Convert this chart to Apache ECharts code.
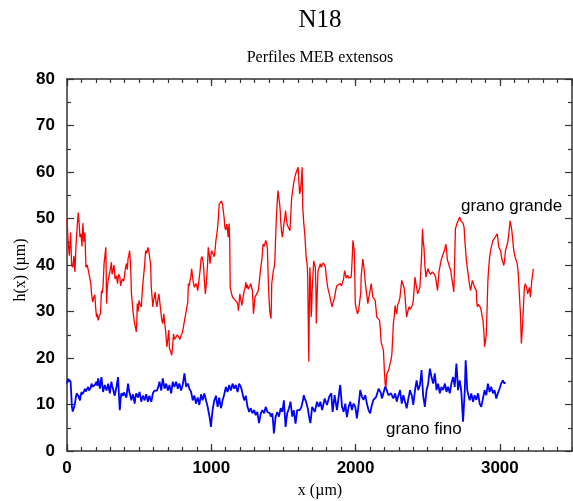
<!DOCTYPE html>
<html>
<head>
<meta charset="utf-8">
<script src="https://cdn.jsdelivr.net/npm/echarts@6/dist/echarts.min.js"></script>
<style>html,body{margin:0;padding:0;background:#fff}#c{width:573px;height:501px}</style>
</head>
<body>
<div id="c"></div>
<script>
var chartTitle = 'N18';
var chartSubtitle = 'Perfiles MEB extensos';
var xName = 'x (\u00b5m)';
var yName = 'h(x) (\u00b5m)';
var xTicks = [0, 1000, 2000, 3000];
var yTicks = [0, 10, 20, 30, 40, 50, 60, 70, 80];
var seriesNames = ['grano grande', 'grano fino'];

// grano grande profile: [x (µm), h (µm)]
var granoGrande = [
[0,50],[8,45],[16,42],[25,47],[32,40],[40,39.5],[48,42],[55,38.5],[62,44],[70,48],[78,51.3],[84,49],[90,46],[97,46.7],[104,44],[110,49],[117,45],[124,47],[128,43],[131,39.5],[140,40],[150,38.5],[159,38.2],[165,36],[170,33.9],[178,32],[185,33],[193,33.6],[198,31],[205,28.8],[210,29.5],[216,28.1],[224,29],[232,29.5],[239,34.5],[245,34],[250,35.6],[257,40.3],[263,42],[269,43.8],[272,38],[274,31.7],[279,35],[285,36.7],[292,37],[300,39],[308,40.6],[312,38],[319,38.8],[326,40],[333,37],[343,37.7],[350,36],[358,38],[366,37.4],[372,35.5],[377,36.3],[385,37],[393,36.5],[400,38.1],[406,39.5],[412,40.3],[418,39],[423,41.3],[428,42],[434,43.1],[439,41],[443,38],[446,34.2],[452,32],[457,30.2],[463,28.5],[469,27.4],[475,26.5],[480,25.6],[484,28],[487,31.7],[493,30],[499,32.4],[507,31.5],[515,31],[520,33.5],[526,36],[532,38],[538,39.9],[545,43.1],[553,42.5],[561,43.8],[568,42.8],[577,43.1],[580,40],[584,35.2],[590,33],[595,31],[600,32.5],[605,33],[611,34.2],[617,32],[623,31],[630,32.5],[637,33.8],[645,31.5],[653,29.2],[658,28],[664,27.4],[671,29.5],[677,27.5],[683,26],[688,24],[692,22.4],[699,24],[706,26],[710,22],[718,21.5],[726,20.6],[732,22.5],[738,25.2],[745,24],[756,23.8],[765,25],[775,24.9],[783,24],[791,24.9],[800,25.5],[807,26.7],[814,28],[821,29.2],[832,29.5],[837,32],[841,36],[847,35.5],[853,36.7],[858,37.5],[864,39.2],[871,37.2],[877,36],[883,35.2],[889,35],[894,36],[900,35.5],[906,34.5],[912,36],[917,37.4],[923,39],[929,41.3],[936,41.8],[945,40.3],[949,38.5],[952,36.7],[956,35],[959,33.8],[964,35.5],[968,37.2],[974,40],[979,43.8],[985,42.5],[991,40.3],[997,42],[1002,43.1],[1010,42.5],[1021,41.8],[1027,43.5],[1032,45.3],[1038,46.5],[1044,48.1],[1050,50.5],[1055,53.1],[1063,53],[1071,53.8],[1078,53],[1085,52.8],[1090,49.9],[1094,48.1],[1100,47.5],[1108,48.8],[1113,47.5],[1117,46],[1120,47.5],[1124,48.9],[1128,45],[1131,35.2],[1136,35.2],[1141,33.8],[1147,33.1],[1155,33.5],[1163,32.5],[1170,32.7],[1178,32],[1184,31.5],[1188,30.2],[1193,32],[1198,33.8],[1205,32.5],[1212,31.3],[1220,33],[1228,34.5],[1234,35],[1239,36.3],[1245,35],[1250,35.8],[1256,34.8],[1262,35.2],[1268,35.5],[1274,36],[1280,35],[1285,34.5],[1289,32],[1292,29.5],[1297,31],[1303,33.1],[1310,33.5],[1318,34],[1326,34.5],[1331,36],[1336,37.4],[1341,39],[1347,40.3],[1353,42],[1359,44.5],[1367,44],[1377,45.3],[1383,44.8],[1389,43.5],[1392,40],[1395,36.7],[1400,33],[1405,30.2],[1410,29],[1414,28.5],[1417,32],[1419,36],[1425,37.5],[1430,38.8],[1436,39.5],[1441,41],[1445,45],[1450,49.5],[1456,53],[1462,56],[1468,54.5],[1474,53.1],[1478,51.5],[1481,49.5],[1486,47.5],[1492,46],[1497,47],[1503,48.8],[1509,50],[1515,51.7],[1520,50],[1526,48.7],[1535,48],[1545,47.4],[1550,50],[1557,54.5],[1564,56],[1572,57.8],[1580,59],[1588,59.9],[1595,60.5],[1602,61],[1607,58],[1612,55.3],[1618,56],[1623,57.8],[1627,59.5],[1630,61],[1634,52.4],[1641,49],[1648,46.7],[1653,44],[1657,41.7],[1664,40.3],[1668,38],[1672,28],[1676,19.2],[1679,30],[1683,39.5],[1688,36],[1692,28.8],[1696,31],[1699,34.5],[1705,38],[1710,40.9],[1716,40],[1721,39.5],[1725,35],[1728,27.4],[1733,33],[1740,38.8],[1748,39.5],[1756,40.3],[1762,39.5],[1768,40],[1776,40.5],[1786,40.9],[1791,39.5],[1795,38.1],[1801,36.5],[1807,35.2],[1812,34.5],[1818,33.8],[1826,32.5],[1837,31],[1845,32],[1855,33.1],[1862,34.5],[1871,35.6],[1880,35.5],[1894,36],[1902,35.5],[1910,35.2],[1917,37],[1924,38.8],[1930,38],[1936,37.2],[1944,37.8],[1952,37.2],[1960,37.5],[1970,37.4],[1976,41],[1982,45.3],[1987,44],[1991,43.1],[1995,37],[1998,31.7],[2005,30.5],[2014,29.5],[2022,30.5],[2032,30.2],[2036,34],[2039,37.7],[2045,39.5],[2050,41.3],[2056,40],[2062,38.2],[2068,36],[2074,34.5],[2080,33],[2085,31.7],[2091,33],[2097,33.8],[2103,35],[2108,36],[2114,34.5],[2120,33.1],[2128,33],[2136,32.4],[2142,30.5],[2147,28.8],[2155,28.5],[2166,28.1],[2172,26],[2177,23.4],[2185,22.5],[2193,21.7],[2200,17],[2205,14.5],[2210,13.5],[2216,16.5],[2223,17],[2230,17.5],[2239,18.8],[2245,19.5],[2251,20.6],[2256,23.5],[2262,27.4],[2268,29],[2274,31.3],[2280,30],[2285,29.5],[2292,31.5],[2300,32],[2308,33.1],[2314,35],[2320,36.7],[2331,36.5],[2337,35],[2343,33.1],[2348,31],[2354,28.8],[2362,30],[2370,31],[2380,30.5],[2389,30.2],[2395,31.5],[2400,32.4],[2406,35],[2412,37.4],[2418,36],[2423,35.2],[2430,33.8],[2438,34.5],[2446,35.2],[2451,38],[2457,41.7],[2461,45],[2464,47.8],[2469,45],[2474,43.8],[2480,40],[2488,37.4],[2495,38.5],[2503,39.2],[2509,38.5],[2515,38.8],[2520,38],[2526,37.7],[2532,38.5],[2538,38.8],[2546,38],[2554,37.4],[2561,36],[2568,34.5],[2574,37],[2579,38.8],[2587,40],[2595,41.3],[2603,42],[2612,42.8],[2619,43.5],[2626,44.5],[2631,43],[2637,41],[2643,40.5],[2648,39.9],[2654,39.5],[2660,38.8],[2665,37.5],[2669,36.7],[2675,35.5],[2681,34.2],[2686,40],[2692,47.8],[2699,48.5],[2706,49.2],[2714,49.5],[2722,50.3],[2730,49.5],[2738,49.9],[2745,49],[2752,48.1],[2758,45],[2763,43.1],[2768,41],[2774,39.5],[2780,38],[2786,36.7],[2791,35.5],[2797,34.5],[2803,35.5],[2809,36.7],[2817,36],[2825,35.2],[2831,35],[2837,34.5],[2840,32],[2844,31],[2850,31.5],[2855,31.7],[2863,31],[2871,30.2],[2877,29],[2883,28.1],[2887,26.5],[2890,25.2],[2894,22.4],[2900,23.5],[2906,25.2],[2911,30],[2917,36.7],[2923,39.5],[2929,41.7],[2935,43],[2940,43.8],[2946,44.5],[2952,45.3],[2960,45.5],[2968,46],[2975,46.3],[2982,46.7],[2988,45],[2993,43.8],[3000,43.5],[3005,43.1],[3010,42],[3016,41],[3022,40.5],[3028,39.9],[3034,41.5],[3039,43.1],[3047,44],[3055,44.9],[3063,47],[3071,49.5],[3077,48.5],[3083,47.4],[3089,45.5],[3094,43.8],[3100,42.5],[3106,41.7],[3113,41],[3120,40.3],[3125,39],[3129,37.4],[3133,35],[3136,33.1],[3140,31],[3143,29.5],[3146,26],[3149,23.1],[3154,25.5],[3159,28.1],[3165,32],[3170,35.2],[3176,36],[3181,36.3],[3187,35],[3193,33.8],[3199,34.5],[3205,35.2],[3209,34],[3212,33.1],[3217,35],[3221,36.7],[3227,38],[3232,39.2]
];

// grano fino profile: [x (µm), h (µm)]
var granoFino = [
[0,14.5],[8,15.5],[16,15.2],[25,14.9],[30,12],[34,9.5],[40,8.5],[44,8.1],[50,9.5],[55,10.2],[61,11.5],[67,12.4],[72,12],[78,11.9],[84,11.5],[90,10.9],[95,12],[101,12.7],[106,12.2],[112,11.9],[118,12.8],[124,13.4],[130,12.8],[136,12.4],[141,13.2],[147,13.8],[153,13],[159,12.7],[164,13.6],[170,14.5],[176,13.8],[181,13.4],[187,13.9],[193,14.2],[199,14.6],[205,14.9],[210,14],[216,15.6],[222,14.5],[228,13.4],[233,14.8],[239,15.9],[245,14],[250,12.7],[256,13.6],[262,14.2],[268,13.5],[274,13],[280,13.8],[285,14.5],[291,13.3],[297,12.4],[302,13.8],[308,14.9],[313,14],[319,13.4],[325,12.5],[331,11.9],[337,12.9],[343,13.8],[348,14.8],[354,15.9],[360,12],[366,8.8],[371,11],[377,12.4],[383,12.2],[388,11.9],[394,12.6],[400,13],[406,12.2],[412,11.5],[417,13],[423,14.5],[428,13.4],[434,12.4],[440,11.8],[446,10.9],[451,11.6],[457,12.2],[463,11.2],[469,10.2],[474,11.5],[480,12.4],[486,12],[492,11.5],[497,12.1],[503,12.7],[509,11.6],[515,10.6],[520,11.3],[526,11.9],[532,11.4],[538,10.9],[543,11.6],[549,12.2],[555,11.4],[561,10.6],[566,11.3],[572,11.9],[578,11.2],[584,10.6],[590,11.5],[595,12.4],[601,12.7],[607,13],[613,12.9],[619,12.7],[624,13],[630,13.4],[636,14.2],[641,14.9],[647,14],[653,13],[658,14.3],[664,15.6],[670,14.5],[676,13.4],[682,14],[688,14.5],[693,13.8],[699,13],[705,13.6],[710,14.2],[716,13.3],[722,12.4],[727,13.6],[733,14.9],[739,14.3],[745,13.8],[750,14.3],[756,14.9],[762,14.2],[768,13.4],[773,14],[779,14.5],[785,13.8],[791,13],[796,13.6],[802,14.2],[808,15.4],[814,16.7],[820,15.2],[826,13.8],[831,14.2],[837,14.5],[843,14],[848,13.4],[854,13],[860,12.7],[866,11.8],[871,10.9],[877,11.4],[883,11.9],[889,11],[894,10.2],[900,10.9],[906,11.5],[912,10.7],[917,9.9],[923,11],[929,12.2],[935,11.5],[940,10.9],[946,11.6],[952,12.4],[958,11.6],[963,10.9],[969,10.2],[975,9.5],[980,8.6],[986,7.7],[992,6.5],[998,5.2],[1003,7],[1009,8.8],[1015,9.9],[1021,10.9],[1027,11.4],[1032,11.9],[1038,10.7],[1044,9.5],[1050,10.5],[1055,11.5],[1061,10.3],[1067,9.2],[1073,10],[1078,10.9],[1084,11.5],[1090,12.2],[1096,13],[1101,13.8],[1107,13.2],[1113,12.7],[1119,13.5],[1124,14.2],[1130,13.6],[1136,13],[1142,13.8],[1147,14.5],[1153,14],[1159,13.4],[1165,13.8],[1170,14.2],[1176,13.5],[1182,12.7],[1188,13.6],[1193,14.5],[1199,14.1],[1205,13.8],[1211,13.1],[1216,12.4],[1222,11.6],[1228,10.9],[1234,11.4],[1239,11.9],[1245,10.7],[1251,9.5],[1257,9],[1262,8.4],[1268,8.8],[1274,9.2],[1280,8.6],[1285,8.1],[1291,8.5],[1297,8.8],[1303,8.2],[1308,7.7],[1314,8],[1319,8.4],[1325,7.2],[1331,6],[1337,7],[1343,8.1],[1349,8.5],[1354,8.8],[1360,8.4],[1366,8.1],[1372,8.8],[1377,9.5],[1383,9],[1389,8.4],[1395,8.6],[1400,8.8],[1406,8.1],[1412,7.4],[1418,7.8],[1423,8.1],[1429,6],[1434,3.8],[1440,5.6],[1446,7.4],[1452,7.9],[1457,8.4],[1463,7.9],[1469,7.4],[1475,8.3],[1481,9.2],[1487,8.8],[1492,8.4],[1498,9.6],[1503,10.9],[1509,8],[1515,5.2],[1520,6.6],[1526,8.1],[1532,8.6],[1538,9.2],[1544,9.9],[1549,10.6],[1555,9],[1561,7.4],[1567,8.1],[1572,8.8],[1578,7.3],[1584,5.9],[1590,7.4],[1595,8.8],[1601,8.6],[1607,8.4],[1613,8.8],[1619,9.2],[1625,9.5],[1630,10.2],[1636,11],[1641,12],[1647,11.3],[1653,11.5],[1657,10.6],[1664,10.2],[1670,9],[1676,7.7],[1681,6.8],[1687,6],[1693,7.7],[1699,9.5],[1708,9],[1717,8.4],[1725,9.5],[1733,10.6],[1739,10],[1745,9.5],[1750,10],[1756,10.6],[1762,9.7],[1768,8.8],[1777,10],[1786,11.3],[1794,10.6],[1802,9.9],[1810,10.8],[1818,11.7],[1825,12],[1832,12.4],[1836,10.4],[1841,8.4],[1848,10.2],[1855,12],[1863,10.4],[1871,8.8],[1877,10.2],[1883,11.7],[1888,13],[1894,14.2],[1900,11.8],[1906,9.5],[1912,9],[1917,8.4],[1923,9.3],[1929,10.2],[1934,8.8],[1940,7.3],[1946,8.4],[1952,9.5],[1957,10],[1963,10.6],[1969,9.7],[1975,8.8],[1980,9.5],[1986,10.2],[1992,9.9],[1998,9.5],[2004,8.2],[2009,7],[2015,8.4],[2021,9.9],[2027,11.5],[2032,13.1],[2038,12.4],[2044,11.7],[2050,11.3],[2055,11],[2061,11.5],[2067,12],[2073,11.1],[2078,10.2],[2084,9.5],[2090,8.8],[2096,8.4],[2101,8.1],[2107,9],[2113,9.9],[2119,10.5],[2124,11],[2130,11.2],[2136,11.3],[2142,11.6],[2147,12],[2153,12.7],[2159,13.4],[2165,13.6],[2170,13.8],[2176,12.5],[2182,11.3],[2188,11.8],[2193,12.4],[2199,13.1],[2205,13.8],[2211,13.4],[2216,13.1],[2222,12.5],[2228,12],[2237,12.2],[2246,12.4],[2254,11.8],[2262,11.3],[2268,11.8],[2274,12.4],[2280,11.5],[2285,10.6],[2291,11.3],[2297,12],[2303,12.5],[2308,13.1],[2314,11.6],[2320,10.2],[2326,11.1],[2331,12],[2337,11.3],[2343,10.6],[2349,9.9],[2354,9.2],[2360,10.2],[2366,11.3],[2372,12.2],[2377,13.1],[2383,12.5],[2389,12],[2395,10.9],[2400,9.9],[2406,11.5],[2412,13.1],[2418,14.2],[2423,15.2],[2429,14.1],[2434,13.1],[2440,13.6],[2446,14.2],[2452,15.8],[2457,17.4],[2463,14.5],[2469,11.7],[2475,10.6],[2480,9.5],[2486,11.3],[2492,13.1],[2498,13.8],[2503,14.5],[2509,16.1],[2515,17.7],[2521,16.8],[2526,15.9],[2532,15.2],[2538,14.5],[2544,15.6],[2549,16.7],[2555,14.9],[2561,13.1],[2567,13.8],[2572,14.5],[2578,13.5],[2584,12.4],[2590,13.1],[2595,13.8],[2601,13.5],[2607,13.1],[2613,13.8],[2619,14.5],[2625,13.6],[2630,12.7],[2636,13.3],[2641,13.8],[2647,13.1],[2653,12.4],[2659,13.5],[2664,14.5],[2670,15.2],[2676,15.9],[2682,14.9],[2687,13.8],[2693,16.3],[2699,18.8],[2705,16],[2710,13.1],[2716,14.2],[2722,15.2],[2728,14],[2733,12.7],[2739,9.5],[2745,6.3],[2751,9.7],[2757,13.1],[2760,16.3],[2763,19.5],[2769,16.3],[2774,13.1],[2782,12],[2791,10.9],[2797,11.7],[2802,12.4],[2808,11.5],[2814,10.6],[2820,11.3],[2825,12],[2831,11.5],[2837,11],[2843,11.7],[2849,12.4],[2855,11.3],[2860,10.2],[2866,9.9],[2871,9.5],[2877,10.4],[2883,11.3],[2889,12.2],[2894,13.1],[2900,12.6],[2906,12],[2912,13.3],[2917,14.5],[2923,13.6],[2929,12.7],[2935,13.3],[2940,13.8],[2946,13.1],[2952,12.4],[2958,12.8],[2963,13.1],[2969,12.2],[2975,11.3],[2981,11.9],[2986,12.4],[2992,12.9],[2998,13.4],[3004,14],[3009,14.5],[3015,14.9],[3021,15.2],[3027,14.8],[3032,14.5],[3037,14.8]
];

var chart = echarts.init(document.getElementById('c'), null, {renderer: 'canvas'});
var axisColor = '#333';
var X_MIN = 0, X_MAX = 3500, Y_MIN = 0, Y_MAX = 80;
var labelFont = {color: '#000', fontSize: 17, fontWeight: 'bold', fontFamily: 'Liberation Sans'};

function xAx(pos, interval, tickLen, labels, line) {
  return {
    type: 'value', position: pos, min: X_MIN, max: X_MAX, interval: interval,
    axisLine: {show: line, onZero: false, lineStyle: {color: axisColor, width: 1.5}},
    axisTick: {show: true, inside: true, length: tickLen, lineStyle: {color: axisColor, width: 1.2}},
    splitLine: {show: false},
    axisLabel: labels ? Object.assign({show: true, showMaxLabel: false, margin: 9,
      formatter: function (v) { return xTicks.indexOf(v) >= 0 ? String(v) : ''; }}, labelFont) : {show: false}
  };
}
function yAx(pos, labels) {
  return {
    type: 'value', position: pos, min: Y_MIN, max: Y_MAX, interval: 10,
    axisLine: {show: true, onZero: false, lineStyle: {color: axisColor, width: 1.5}},
    axisTick: {show: true, inside: true, length: 7, lineStyle: {color: axisColor, width: 1.2}},
    minorTick: {show: true, splitNumber: 2, length: 4, lineStyle: {color: axisColor, width: 1.2}},
    splitLine: {show: false},
    axisLabel: labels ? Object.assign({show: true, margin: 12,
      formatter: function (v) { return yTicks.indexOf(v) >= 0 ? String(v) : ''; }}, labelFont) : {show: false}
  };
}

chart.setOption({
  animation: false,
  backgroundColor: '#fff',
  grid: {left: 67, top: 79, right: 1, bottom: 50, containLabel: false},
  xAxis: [
    xAx('bottom', 1000, 7, true, true),
    xAx('bottom', 100, 4, false, false),
    xAx('top', 1000, 7, false, true),
    xAx('top', 100, 4, false, false)
  ],
  yAxis: [yAx('left', true), yAx('right', false)],
  series: [
    {name: seriesNames[0], type: 'line', xAxisIndex: 0, yAxisIndex: 0, data: granoGrande, showSymbol: false,
      lineStyle: {color: '#ff0000', width: 1.3}, z: 3},
    {name: seriesNames[1], type: 'line', xAxisIndex: 0, yAxisIndex: 0, data: granoFino, showSymbol: false,
      lineStyle: {color: '#0000ff', width: 1.8}, z: 4}
  ],
  graphic: [
    {type: 'text', x: 320, y: 20, style: {text: chartTitle, fontSize: 25, fontFamily: 'Liberation Serif', fill: '#000', align: 'center', verticalAlign: 'middle'}},
    {type: 'text', x: 320, y: 58, style: {text: chartSubtitle, fontSize: 16, fontFamily: 'Liberation Serif', fill: '#000', align: 'center', verticalAlign: 'middle'}},
    {type: 'text', x: 320, y: 491, style: {text: xName, fontSize: 16, fontFamily: 'Liberation Serif', fill: '#000', align: 'center', verticalAlign: 'middle'}},
    {type: 'text', x: 21, y: 270, rotation: Math.PI / 2, style: {text: yName, fontSize: 16, fontFamily: 'Liberation Serif', fill: '#000', align: 'center', verticalAlign: 'middle'}},
    {type: 'text', x: 461, y: 206, style: {text: seriesNames[0], fontSize: 17, fontFamily: 'Liberation Sans', fill: '#000', align: 'left', verticalAlign: 'middle'}},
    {type: 'text', x: 386, y: 429, style: {text: seriesNames[1], fontSize: 17, fontFamily: 'Liberation Sans', fill: '#000', align: 'left', verticalAlign: 'middle'}}
  ]
});
</script>
</body>
</html>
